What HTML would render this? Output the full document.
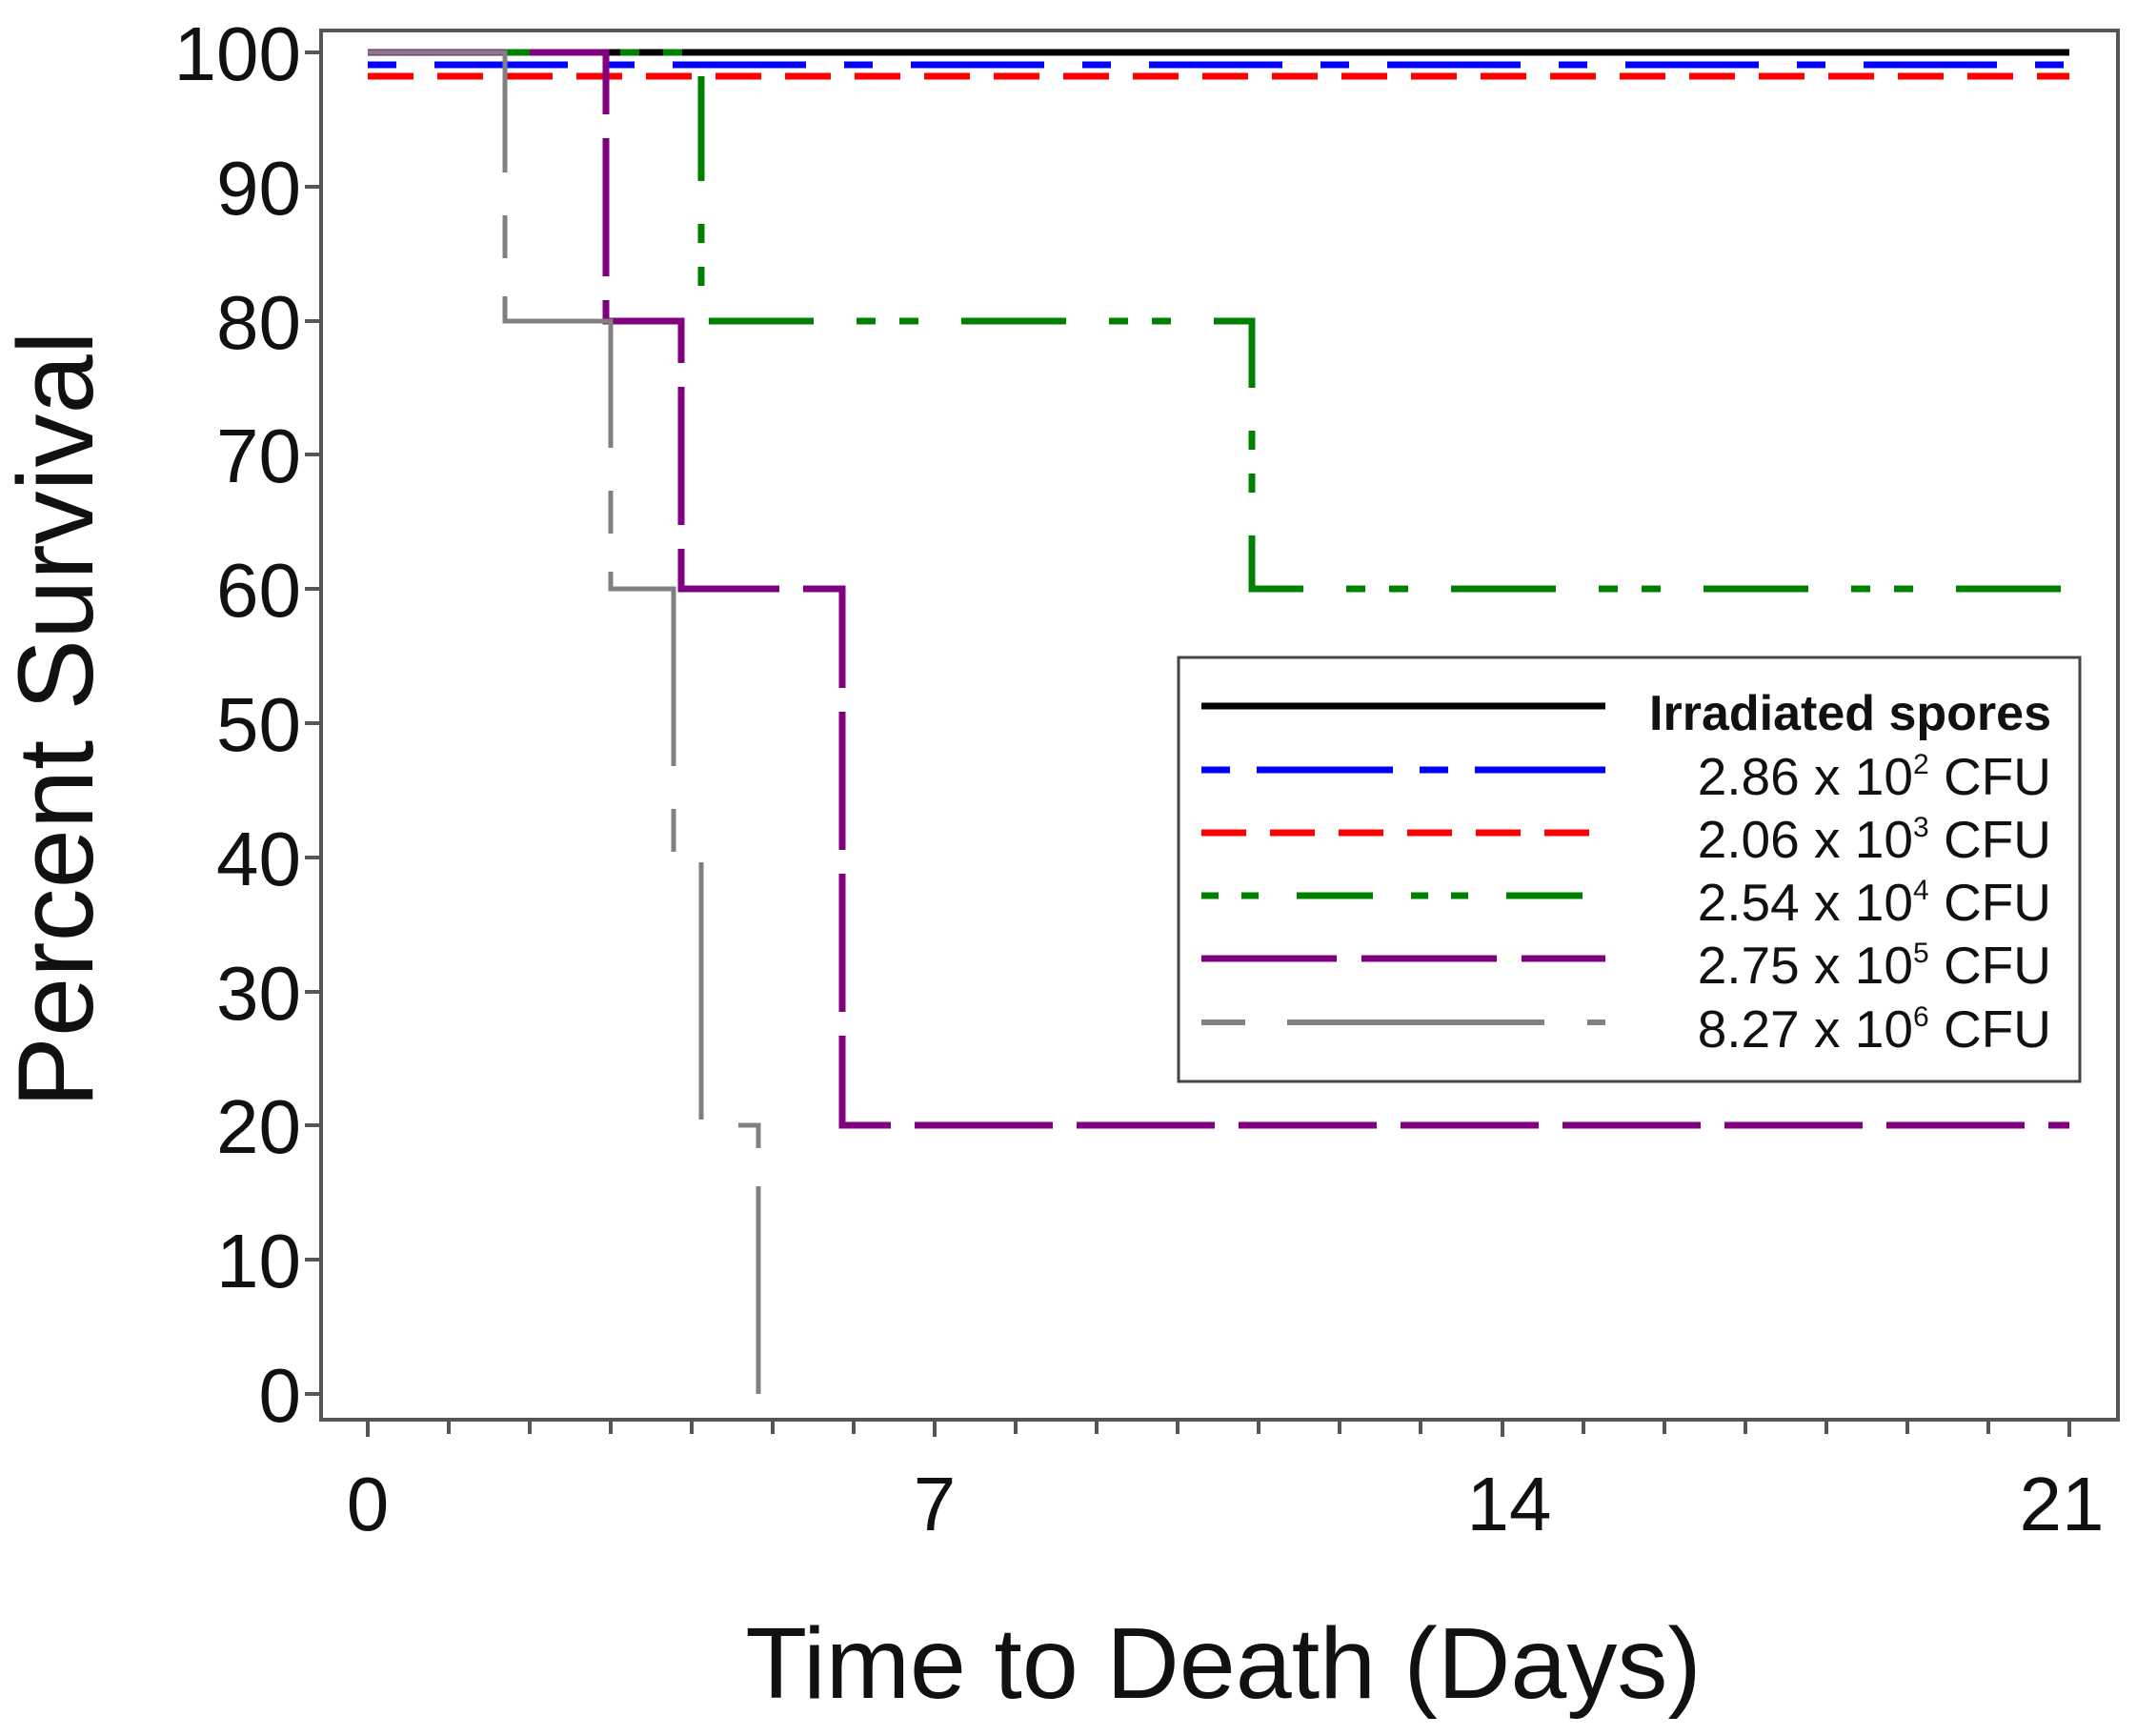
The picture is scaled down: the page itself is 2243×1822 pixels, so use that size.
<!DOCTYPE html>
<html><head><style>html,body{margin:0;padding:0;background:#fff;}svg{display:block;}</style></head>
<body>
<svg width="2243" height="1822" xmlns="http://www.w3.org/2000/svg" font-family="Liberation Sans, Arial, sans-serif">
<rect width="2243" height="1822" fill="#fff"/>
<rect x="337" y="32" width="1886" height="1458" fill="none" stroke="#555" stroke-width="4"/>
<g stroke="#555" stroke-width="4">
<line x1="320" y1="55" x2="337" y2="55"/><line x1="320" y1="196" x2="337" y2="196"/>
<line x1="320" y1="337" x2="337" y2="337"/><line x1="320" y1="477" x2="337" y2="477"/>
<line x1="320" y1="618" x2="337" y2="618"/><line x1="320" y1="759" x2="337" y2="759"/>
<line x1="320" y1="900" x2="337" y2="900"/><line x1="320" y1="1041" x2="337" y2="1041"/>
<line x1="320" y1="1181" x2="337" y2="1181"/><line x1="320" y1="1322" x2="337" y2="1322"/>
<line x1="320" y1="1463" x2="337" y2="1463"/>
</g>
<g font-size="80" fill="#111" text-anchor="end">
<text x="316" y="84">100</text><text x="316" y="225">90</text><text x="316" y="366">80</text>
<text x="316" y="506">70</text><text x="316" y="647">60</text><text x="316" y="788">50</text>
<text x="316" y="929">40</text><text x="316" y="1070">30</text><text x="316" y="1210">20</text>
<text x="316" y="1351">10</text><text x="316" y="1492">0</text>
</g>
<g stroke="#555" stroke-width="4">
<line x1="386" y1="1490" x2="386" y2="1508"/><line x1="471" y1="1490" x2="471" y2="1505"/><line x1="556" y1="1490" x2="556" y2="1505"/><line x1="641" y1="1490" x2="641" y2="1505"/><line x1="726" y1="1490" x2="726" y2="1505"/><line x1="811" y1="1490" x2="811" y2="1505"/><line x1="896" y1="1490" x2="896" y2="1505"/>
<line x1="981" y1="1490" x2="981" y2="1508"/><line x1="1066" y1="1490" x2="1066" y2="1505"/><line x1="1151" y1="1490" x2="1151" y2="1505"/><line x1="1236" y1="1490" x2="1236" y2="1505"/><line x1="1321" y1="1490" x2="1321" y2="1505"/><line x1="1406" y1="1490" x2="1406" y2="1505"/><line x1="1491" y1="1490" x2="1491" y2="1505"/>
<line x1="1577" y1="1490" x2="1577" y2="1508"/><line x1="1662" y1="1490" x2="1662" y2="1505"/><line x1="1747" y1="1490" x2="1747" y2="1505"/><line x1="1832" y1="1490" x2="1832" y2="1505"/><line x1="1917" y1="1490" x2="1917" y2="1505"/><line x1="2002" y1="1490" x2="2002" y2="1505"/><line x1="2087" y1="1490" x2="2087" y2="1505"/>
<line x1="2172" y1="1490" x2="2172" y2="1508"/>
</g>
<g font-size="80" fill="#111" text-anchor="middle">
<text x="386" y="1606">0</text><text x="981" y="1606">7</text><text x="1584" y="1606">14</text><text x="2164" y="1606">21</text>
</g>
<text x="1284" y="1782" font-size="106" text-anchor="middle" fill="#111">Time to Death (Days)</text>
<text transform="translate(97,755) rotate(-90)" font-size="112" text-anchor="middle" fill="#111">Percent Survival</text>
<g fill="none" stroke-width="7">
<path d="M386,55 H2172" stroke="#000"/>
<path d="M386,68 H2172" stroke="#0000ff" stroke-dasharray="30,40,140,40"/>
<path d="M386,80 H2172" stroke="#ff0000" stroke-dasharray="48,25"/>
<path d="M386,55 H736 V337 H1314 V618 H2172" stroke="#008000" stroke-dasharray="20,25,20,45,110,45"/>
<path d="M386,55 H636 V337 H715 V618 H884 V1181 H2172" stroke="#800080" stroke-dasharray="145,25"/>
<path d="M386,55 H530 V337 H641 V618 H707 V900 H736 V1181 H796 V1463" stroke="#808080" stroke-width="5" stroke-dasharray="270,45,45,40"/>
</g>
<rect x="1237" y="690" width="946" height="445" fill="#fff" stroke="#444" stroke-width="3"/>
<g stroke-width="7" fill="none">
<line x1="1261" y1="741" x2="1685" y2="741" stroke="#000"/>
<line x1="1261" y1="808" x2="1685" y2="808" stroke="#0000ff" stroke-dasharray="30,28,143,28"/>
<line x1="1261" y1="874" x2="1685" y2="874" stroke="#ff0000" stroke-dasharray="47,25"/>
<line x1="1261" y1="940" x2="1685" y2="940" stroke="#008000" stroke-dasharray="18,24,18,40,80,40"/>
<line x1="1261" y1="1006" x2="1685" y2="1006" stroke="#800080" stroke-dasharray="142,26"/>
<line x1="1261" y1="1073" x2="1685" y2="1073" stroke="#808080" stroke-width="6" stroke-dasharray="46,44,270,45"/>
</g>
<g font-size="55" fill="#111" text-anchor="end">
<text x="2153" y="766" font-weight="bold" font-size="52">Irradiated spores</text>
<text x="2153" y="834">2.86 x 10<tspan font-size="30" dy="-22">2</tspan><tspan dy="22"> CFU</tspan></text>
<text x="2153" y="900">2.06 x 10<tspan font-size="30" dy="-22">3</tspan><tspan dy="22"> CFU</tspan></text>
<text x="2153" y="966">2.54 x 10<tspan font-size="30" dy="-22">4</tspan><tspan dy="22"> CFU</tspan></text>
<text x="2153" y="1032">2.75 x 10<tspan font-size="30" dy="-22">5</tspan><tspan dy="22"> CFU</tspan></text>
<text x="2153" y="1099">8.27 x 10<tspan font-size="30" dy="-22">6</tspan><tspan dy="22"> CFU</tspan></text>
</g>
</svg>
</body></html>
